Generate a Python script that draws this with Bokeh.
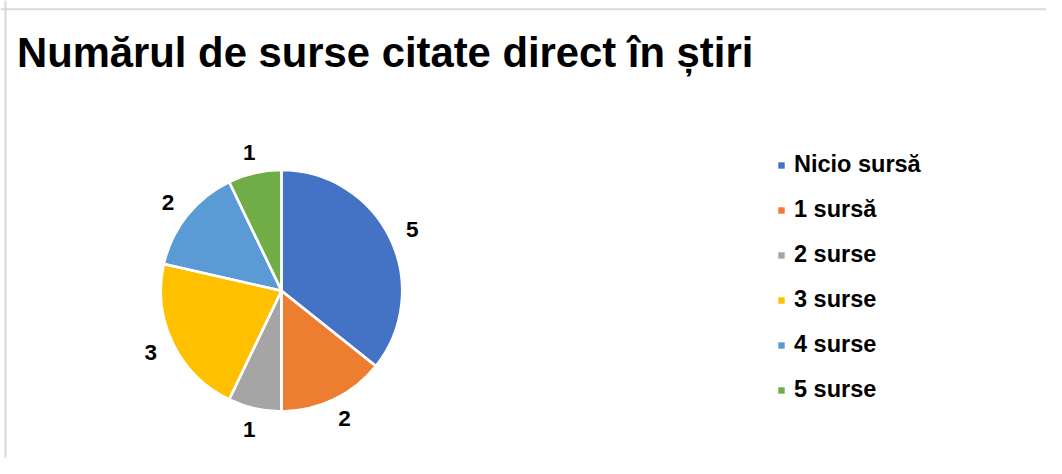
import numpy as np
from bokeh.plotting import figure
from bokeh.models import ColumnDataSource, Range1d, Legend, LegendItem, Label, Span
from bokeh.embed import file_html
from bokeh.resources import INLINE
from bokeh.core.properties import value

# ---- data ----
title_text = "Numărul de surse citate direct în știri"
categories = ["Nicio sursă", "1 sursă", "2 surse", "3 surse", "4 surse", "5 surse"]
counts = [5, 2, 1, 3, 2, 1]
colors = ["#4472C4", "#ED7D31", "#A5A5A5", "#FFC000", "#5B9BD5", "#70AD47"]

# ---- layout constants (reference-image coordinates mapped onto the figure) ----
W, H = 1046, 458
REF_W, REF_H = 1062, 474
FONT = "Liberation Sans"

def py(img_y):
    return REF_H - img_y

cx, cy = 285.3, py(300.4)
radius = 122.5
label_r = 147.3

vals = np.array(counts, dtype=float)
frac = vals / vals.sum()
cum = np.concatenate([[0.0], np.cumsum(frac)])
ang_start = np.pi / 2 - 2 * np.pi * cum[:-1]
ang_end = np.pi / 2 - 2 * np.pi * cum[1:]
ang_mid = (ang_start + ang_end) / 2

src = ColumnDataSource(dict(
    cat=categories, count=counts, color=colors,
    a0=ang_end, a1=ang_start,
    lx=cx + label_r * np.cos(ang_mid), ly=cy + label_r * np.sin(ang_mid),
    txt=[str(c) for c in counts],
))

p = figure(width=W, height=H, x_range=Range1d(0, REF_W), y_range=Range1d(0, REF_H),
           output_backend="svg", toolbar_location=None, min_border=0)
p.axis.visible = False
p.grid.visible = False
p.outline_line_color = None
p.background_fill_color = "white"
p.border_fill_color = "white"

fill_r = p.wedge(x=cx, y=cy, radius=radius, start_angle="a0", end_angle="a1",
                 direction="anticlock", fill_color="color", line_color=None, source=src)
p.wedge(x=cx, y=cy, radius=radius, start_angle="a0", end_angle="a1",
        direction="anticlock", fill_color=None, line_color="white", line_width=2.5, source=src)

p.text(x="lx", y="ly", text="txt", source=src, text_font=value(FONT), text_font_style="bold",
       text_font_size="22.5px", text_align="center", text_baseline="middle", text_color="#000000")

legend = Legend(
    items=[LegendItem(label=c, renderers=[fill_r], index=i) for i, c in enumerate(categories)],
    location=(777, 53),
    glyph_width=8, glyph_height=8, label_standoff=9, label_height=31, spacing=14,
    padding=0, margin=0, border_line_color=None, background_fill_alpha=0,
    label_text_font=FONT, label_text_font_style="bold", label_text_font_size="23.5px",
    label_text_color="#000000",
)
p.add_layout(legend)

p.add_layout(Label(x=16.7, y=py(53.3), text=title_text, text_font=FONT, text_font_style="bold",
                   text_font_size="41.8px", text_baseline="alphabetic", text_color="#000000"))

p.add_layout(Span(location=py(9), dimension="width", line_color="#d9d9d9", line_width=2))
p.add_layout(Span(location=5, dimension="height", line_color="#d9d9d9", line_width=2))

open("out.html", "w").write(file_html(p, INLINE))
